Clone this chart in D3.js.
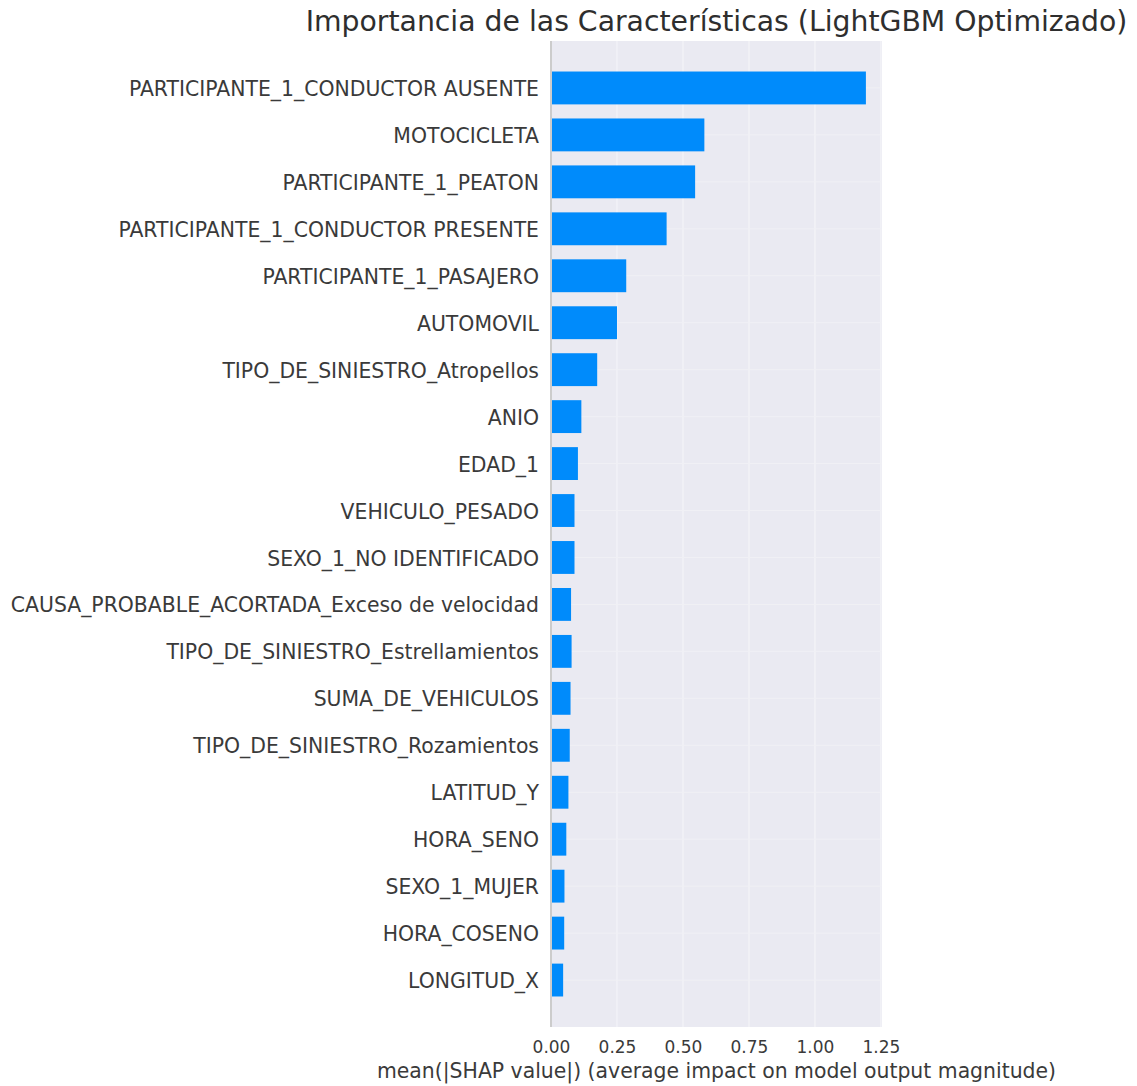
<!DOCTYPE html>
<html>
<head>
<meta charset="utf-8">
<script src="https://cdn.jsdelivr.net/npm/d3@7"></script>
<style>
  body { margin: 0; background: #ffffff; }
  svg { display: block; }
</style>
</head>
<body>
<svg id="chart" width="1137" height="1086"></svg>
<script>
// Feature names, most important first
const features = [
  "PARTICIPANTE_1_CONDUCTOR AUSENTE",
  "MOTOCICLETA",
  "PARTICIPANTE_1_PEATON",
  "PARTICIPANTE_1_CONDUCTOR PRESENTE",
  "PARTICIPANTE_1_PASAJERO",
  "AUTOMOVIL",
  "TIPO_DE_SINIESTRO_Atropellos",
  "ANIO",
  "EDAD_1",
  "VEHICULO_PESADO",
  "SEXO_1_NO IDENTIFICADO",
  "CAUSA_PROBABLE_ACORTADA_Exceso de velocidad",
  "TIPO_DE_SINIESTRO_Estrellamientos",
  "SUMA_DE_VEHICULOS",
  "TIPO_DE_SINIESTRO_Rozamientos",
  "LATITUD_Y",
  "HORA_SENO",
  "SEXO_1_MUJER",
  "HORA_COSENO",
  "LONGITUD_X"
];

// mean(|SHAP value|) per feature
const meanAbsShap = [
  1.193, 0.581, 0.546, 0.438, 0.285, 0.250, 0.175, 0.115, 0.102, 0.089,
  0.089, 0.076, 0.078, 0.074, 0.071, 0.066, 0.058, 0.051, 0.050, 0.046
];

const xTicks = [0, 0.25, 0.5, 0.75, 1.0, 1.25];

const titleText = "Importancia de las Características (LightGBM Optimizado)";
const xLabelText = "mean(|SHAP value|) (average impact on model output magnitude)";

const svg = d3.select("#chart");
const plot = { left: 551, right: 882, top: 41, bottom: 1027 };
const font = "DejaVu Sans, sans-serif";

const x = d3.scaleLinear().domain([0, 1.254]).range([plot.left, plot.right]);
const y = d3.scaleBand()
  .domain(features)
  .range([plot.top, plot.bottom])
  .paddingInner(0.3)
  .paddingOuter(0.65);

// axes background
svg.append("rect")
  .attr("x", plot.left).attr("y", plot.top)
  .attr("width", plot.right - plot.left).attr("height", plot.bottom - plot.top)
  .attr("fill", "#eaeaf2");

// vertical grid
svg.append("g").selectAll("line").data(xTicks.filter(d => d > 0)).join("line")
  .attr("x1", d => x(d)).attr("x2", d => x(d))
  .attr("y1", plot.top).attr("y2", plot.bottom)
  .attr("stroke", "#f4f4f8").attr("stroke-width", 1.2);

// horizontal grid at each feature
svg.append("g").selectAll("line").data(features).join("line")
  .attr("x1", plot.left).attr("x2", plot.right)
  .attr("y1", d => y(d) + y.bandwidth() / 2).attr("y2", d => y(d) + y.bandwidth() / 2)
  .attr("stroke", "#f0f0f5").attr("stroke-width", 1);

// bars
svg.append("g").selectAll("rect").data(features).join("rect")
  .attr("x", x(0))
  .attr("y", d => y(d))
  .attr("width", (d, i) => x(meanAbsShap[i]) - x(0))
  .attr("height", y.bandwidth())
  .attr("fill", "#008bfb");

// zero line
svg.append("line")
  .attr("x1", x(0)).attr("x2", x(0))
  .attr("y1", plot.top).attr("y2", plot.bottom)
  .attr("stroke", "#cccccc").attr("stroke-width", 2);

// y axis labels
const yAxis = d3.axisLeft(y).tickSize(0).tickPadding(12);
const gy = svg.append("g").attr("transform", `translate(${plot.left},1.5)`).call(yAxis);
gy.select(".domain").remove();
gy.selectAll("text")
  .attr("font-family", font).attr("font-size", 20.4).attr("fill", "#3a3a3a");

// x axis
const xAxis = d3.axisBottom(x).tickValues(xTicks).tickFormat(d3.format(".2f")).tickSize(0).tickPadding(14);
const gx = svg.append("g").attr("transform", `translate(0,${plot.bottom})`).call(xAxis);
gx.select(".domain").remove();
gx.selectAll("text")
  .attr("font-family", font).attr("font-size", 17).attr("fill", "#3a3a3a");

// x label
svg.append("text")
  .attr("x", (plot.left + plot.right) / 2).attr("y", 1078)
  .attr("text-anchor", "middle")
  .attr("font-family", font).attr("font-size", 20.4).attr("fill", "#3a3a3a")
  .text(xLabelText);

// title
svg.append("text")
  .attr("x", (plot.left + plot.right) / 2).attr("y", 31)
  .attr("text-anchor", "middle")
  .attr("font-family", font).attr("font-size", 28.3).attr("fill", "#2e2e2e")
  .text(titleText);
</script>
</body>
</html>
